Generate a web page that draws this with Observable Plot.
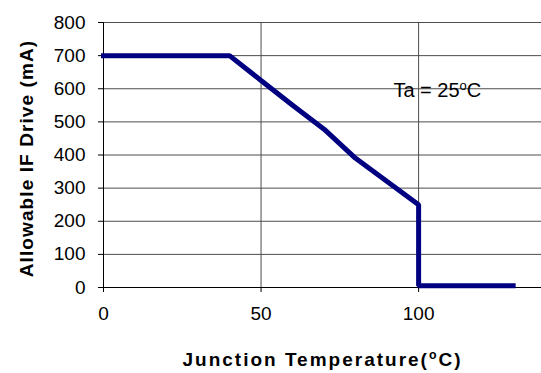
<!DOCTYPE html>
<html>
<head>
<meta charset="utf-8">
<script src="https://cdn.jsdelivr.net/npm/d3@7"></script>
<script src="https://cdn.jsdelivr.net/npm/@observablehq/plot@0.6"></script>
<style>
  html, body { margin: 0; padding: 0; background: #fff; overflow: hidden; }
</style>
</head>
<body>
<div id="chart"></div>
<script>
// Data
const temperature = [0, 40, 50, 60, 70, 80, 90, 100, 100, 130];
const drive       = [700, 700, 625, 550, 478, 390, 320, 250, 5, 5];

const xTicks = [0, 50, 100];
const yTicks = [0, 100, 200, 300, 400, 500, 600, 700, 800];
const xGrid = [50, 100];

const xTitle = "Junction Temperature(oC)";
const yTitle = "Allowable IF Drive (mA)";

const noteText = ["Ta = 25oC"];
const noteX = [92];
const noteY = [594];

const rows = temperature.map((t, i) => ({t, d: drive[i]}));
const notes = noteText.map((s, i) => ({label: s, x: noteX[i], y: noteY[i]}));

const font = '"Liberation Sans", Arial, Helvetica, sans-serif';

const chart = Plot.plot({
  width: 541,
  height: 373,
  marginLeft: 103,
  marginRight: 0,
  marginTop: 22,
  marginBottom: 86,
  style: {fontFamily: font, fontSize: "19px", background: "#fff", color: "#000", overflow: "visible"},
  x: {domain: [0, 139], label: null},
  y: {domain: [0, 800], label: null},
  marks: [
    Plot.gridY(yTicks, {stroke: "#4d4d4d", strokeOpacity: 1, strokeWidth: 1}),
    Plot.gridX(xGrid, {stroke: "#4d4d4d", strokeOpacity: 1, strokeWidth: 1}),
    Plot.ruleY([0], {stroke: "#000", strokeWidth: 1}),
    Plot.ruleX([0], {stroke: "#000", strokeWidth: 1}),
    Plot.axisX(xTicks, {tickSize: 5, tickPadding: 14, fontSize: 19, label: null, tickFormat: d => String(d)}),
    Plot.axisY(yTicks, {tickSize: 5, tickPadding: 13, fontSize: 19, label: null, tickFormat: d => String(d)}),
    Plot.text(notes, {x: "x", y: "y", text: "label", textAnchor: "start", lineAnchor: "middle", fontSize: 20, fill: "#000"}),
    Plot.line(rows, {x: "t", y: "d", stroke: "#000080", strokeWidth: 5, strokeLinejoin: "miter", strokeLinecap: "square"}),
    Plot.text([xTitle], {frameAnchor: "bottom", lineAnchor: "middle", textAnchor: "middle", dy: 72.6, fontSize: 19, fontWeight: "bold", fill: "#000"}),
    Plot.text([yTitle], {frameAnchor: "left", rotate: -90, lineAnchor: "middle", textAnchor: "middle", dx: -77, dy: 3.5, fontSize: 19, fontWeight: "bold", fill: "#000"})
  ]
});

document.getElementById("chart").appendChild(chart);

// Letter spacing for titles and superscript "o" before C
const svg = d3.select(chart);
svg.selectAll("text").each(function() {
  const el = this;
  const s = el.textContent;
  if (s === xTitle) el.style.letterSpacing = "2px";
  if (s === yTitle) el.style.letterSpacing = "1.1px";
  const i = s.lastIndexOf("oC");
  if (i >= 0) {
    el.textContent = "";
    const sel = d3.select(el);
    sel.append("tspan").text(s.slice(0, i));
    sel.append("tspan").attr("font-size", "65%").attr("dy", "-0.55em").text("o");
    sel.append("tspan").attr("dy", "0.3575em").text(s.slice(i + 1));
  }
});
</script>
</body>
</html>
